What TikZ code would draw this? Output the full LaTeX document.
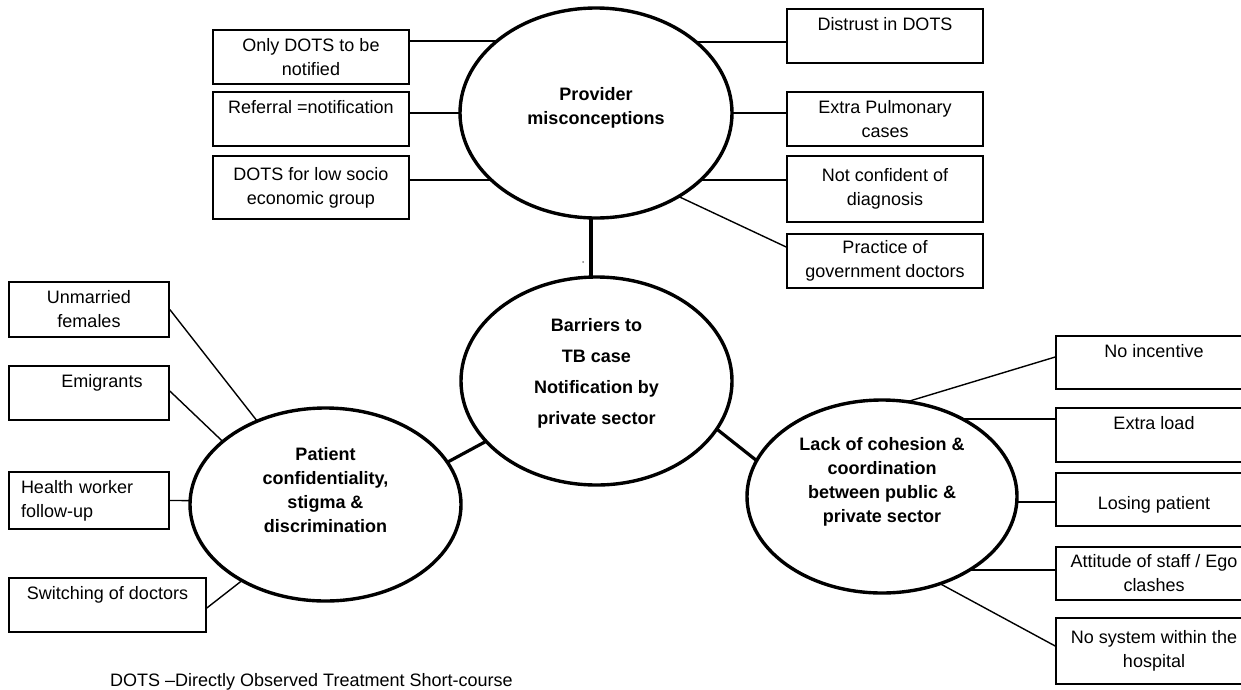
\documentclass[tikz,border=0pt]{standalone}
\usepackage{fontspec}
\setmainfont{Liberation Sans}
\usetikzlibrary{shapes.geometric}
\pgfdeclarelayer{bg}
\pgfsetlayers{bg,main}
\begin{document}
\begin{tikzpicture}[x=1pt,y=-1pt,
  box/.style={draw, line width=1.6pt, fill=white, inner sep=0pt, align=center,
    font=\fontsize{18}{24}\selectfont, minimum width=196pt},
  oval/.style={ellipse, draw, line width=3.4pt, fill=white, inner sep=0pt},
  ovaltext/.style={align=center, inner sep=0pt, font=\fontsize{18}{24}\selectfont\bfseries},
  link/.style={line width=1.4pt},
  thicklink/.style={line width=3.2pt}]
\useasboundingbox (0,0) rectangle (1241,689);
\clip (0,0) rectangle (1241,689);

% ellipses
\node[oval, minimum width=272pt, minimum height=210pt] (prov) at (596,113) {};
\node[oval, minimum width=271pt, minimum height=208pt] (core) at (596.5,381) {};
\node[oval, minimum width=271pt, minimum height=193pt] (pat) at (325.5,504.5) {};
\node[oval, minimum width=270pt, minimum height=193pt] (lack) at (882,496.5) {};

\node[ovaltext] (provt) at (596,108) {Provider\\misconceptions};
\node[ovaltext, font=\fontsize{18}{31}\selectfont\bfseries] (coret) at (596.5,373) {Barriers to\\TB case\\Notification by\\private sector};
\node[ovaltext] (patt) at (325.5,490) {Patient\\confidentiality,\\stigma \&\\discrimination};
\node[ovaltext] (lackt) at (882,482) {Lack of cohesion \&\\coordination\\between public \&\\private sector};

% provider boxes
\node[box, minimum height=54pt] (onlydots) at (311,57) {Only DOTS to be\\notified};
\node[box, minimum height=54pt] (referral) at (311,119) {Referral =notification\\\mbox{}};
\node[box, minimum height=63pt] (lowsocio) at (311,187.5) {DOTS for low socio\\economic group};
\node[box, minimum height=54pt] (distrust) at (885,36) {Distrust in DOTS\\\mbox{}};
\node[box, minimum height=54pt] (extrapulm) at (885,119) {Extra Pulmonary\\cases};
\node[box, minimum height=66pt] (notconf) at (885,189) {Not confident of\\diagnosis};
\node[box, minimum height=54pt] (practice) at (885,261) {Practice of\\government doctors};

% patient boxes
\node[box, minimum width=160pt, minimum height=55pt] (unmarried) at (89,309.5) {Unmarried\\females};
\node[box, minimum width=160pt, minimum height=54pt] (emigrants) at (89,393) {\hspace*{26pt}Emigrants\\\mbox{}};
\node[box, minimum width=160pt, minimum height=57pt, text width=136pt, align=left] (health) at (89,500.5) {Health worker\\follow-up};
\node[box, minimum width=197pt, minimum height=54pt] (switching) at (107.5,605) {Switching of doctors\\\mbox{}};

% lack boxes
\node[box, minimum height=53pt] (noinc) at (1154,362.5) {No incentive\\\mbox{}};
\node[box, minimum height=54pt] (extraload) at (1154,435) {Extra load\\\mbox{}};
\node[box, minimum height=53pt] (losing) at (1154,499.5) {\mbox{}\\Losing patient};
\node[box, minimum height=53pt] (attitude) at (1154,573.5) {Attitude of staff / Ego\\clashes};
\node[box, minimum height=66pt] (nosystem) at (1154,651) {No system within the\\hospital};

% footnote
\node[anchor=base west, inner sep=0pt, font=\fontsize{18}{24}\selectfont] (foot) at (110,686) {DOTS \textendash Directly Observed Treatment Short-course};

\begin{pgfonlayer}{bg}
  % provider links
  \draw[link] ([yshift=16pt]onlydots.east) -- ([yshift=72pt]prov.center);
  \draw[link] ([yshift=6pt]referral.east) -- (prov.center);
  \draw[link] ([yshift=7.5pt]lowsocio.east) -- ([yshift=-67pt]prov.center);
  \draw[link] ([yshift=-6pt]distrust.west) -- ([yshift=71pt]prov.center);
  \draw[link] ([yshift=6pt]extrapulm.west) -- (prov.center);
  \draw[link] ([yshift=9pt]notconf.west) -- ([yshift=-67pt]prov.center);
  \draw[link] ([yshift=14pt]practice.west) -- ([xshift=24pt,yshift=-56pt]prov.center);
  % core links
  \draw[thicklink] ([xshift=-5pt]prov.center) -- ([xshift=-5.5pt]core.center);
  \draw[thicklink] ([xshift=-76.5pt,yshift=-42pt]core.center) -- ([xshift=94.5pt,yshift=27.5pt]pat.center);
  \draw[thicklink] ([xshift=83.5pt,yshift=-19pt]core.center) -- ([xshift=-92pt,yshift=9.5pt]lack.center);
  % patient links
  \draw[link] (unmarried.east) -- ([xshift=-35.5pt,yshift=41.5pt]pat.center);
  \draw[link] ([yshift=2pt]emigrants.east) -- ([xshift=-65.5pt,yshift=27.5pt]pat.center);
  \draw[link] (health.east) -- ([yshift=3.5pt]pat.center);
  \draw[link] ([yshift=-3pt]switching.east) -- ([xshift=-40.5pt,yshift=-42.5pt]pat.center);
  % lack links
  \draw[link] ([yshift=5.5pt]noinc.west) -- ([xshift=-22pt,yshift=80.5pt]lack.center);
  \draw[link] ([yshift=16pt]extraload.west) -- ([yshift=77.5pt]lack.center);
  \draw[link] ([yshift=-2.5pt]losing.west) -- ([yshift=-5.5pt]lack.center);
  \draw[link] ([yshift=3.5pt]attitude.west) -- ([yshift=-73.5pt]lack.center);
  \draw[link] ([yshift=5pt]nosystem.west) -- ([xshift=18pt,yshift=-65.5pt]lack.center);
\end{pgfonlayer}

\fill[black!50] (583,262) circle (1pt);
\end{tikzpicture}
\end{document}
